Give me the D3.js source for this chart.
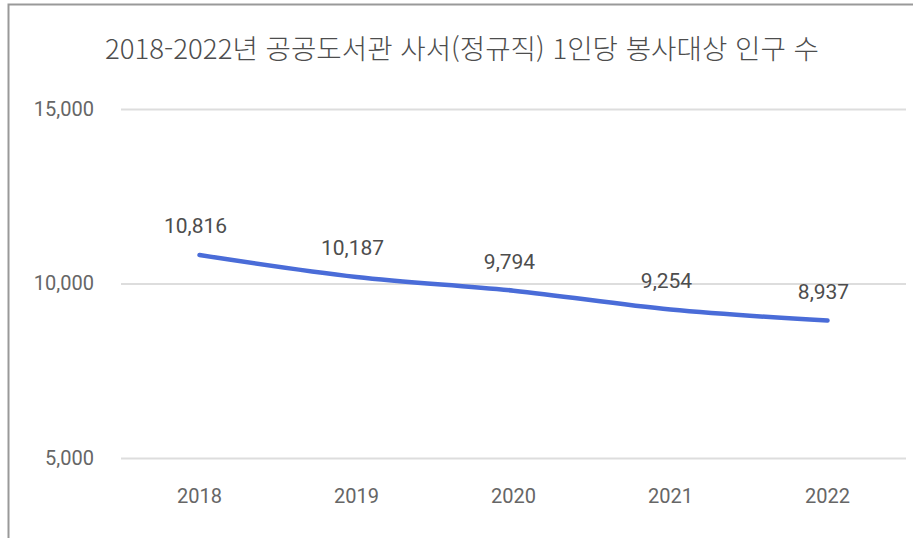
<!DOCTYPE html>
<html lang="ko">
<head>
<meta charset="utf-8">
<script src="https://cdn.jsdelivr.net/npm/d3@7"></script>
<style>
  html, body { margin: 0; padding: 0; background: #fff; }
  svg { display: block; }
</style>
</head>
<body>
<div id="chart"></div>
<script>
const title = '2018-2022년 공공도서관 사서(정규직) 1인당 봉사대상 인구 수'
const years = ['2018', '2019', '2020', '2021', '2022']
const population = [10816, 10187, 9794, 9254, 8937]
const yTicks = [5000, 10000, 15000]

const width = 913
const height = 538
const margin = { top: 109, right: 7, bottom: 80, left: 121 }

const svg = d3.select('#chart')
  .append('svg')
  .attr('width', width)
  .attr('height', height)

// frame (top + left edge of the screenshot)
svg.append('path')
  .attr('d', `M8.5,${height} V4.5 H${width}`)
  .attr('fill', 'none')
  .attr('stroke', '#999')
  .attr('stroke-width', 2)

const x = d3.scaleBand()
  .domain(years)
  .range([margin.left, width - margin.right])

const y = d3.scaleLinear()
  .domain([5000, 15000])
  .range([height - margin.bottom, margin.top])

svg.append('text')
  .attr('x', 462)
  .attr('y', 59)
  .attr('text-anchor', 'middle')
  .attr('font-family', '"Noto Sans CJK KR", sans-serif')
  .attr('font-size', 27)
  .attr('font-weight', 300)
  .attr('textLength', 714)
  .attr('lengthAdjust', 'spacingAndGlyphs')
  .attr('fill', '#4d4d4d')
  .text(title)

const yAxis = svg.append('g')
  .attr('transform', `translate(${margin.left},0)`)
  .call(d3.axisLeft(y).tickValues(yTicks).tickFormat(d3.format(',')).tickSize(-(width - margin.left - margin.right)).tickPadding(27))

yAxis.select('.domain').remove()
yAxis.selectAll('.tick line').attr('stroke', '#ddd').attr('stroke-width', 2)
yAxis.selectAll('.tick text')
  .attr('font-family', 'Roboto, sans-serif')
  .attr('font-size', 20)
  .attr('fill', '#666')

const xAxis = svg.append('g')
  .attr('transform', `translate(0,${height - margin.bottom})`)
  .call(d3.axisBottom(x).tickSize(0).tickPadding(31))

xAxis.select('.domain').remove()
xAxis.selectAll('.tick text')
  .attr('font-family', 'Roboto, sans-serif')
  .attr('font-size', 20)
  .attr('fill', '#666')

const cx = (d, i) => x(years[i]) + x.bandwidth() / 2

const line = d3.line()
  .x(cx)
  .y((d) => y(d))
  .curve(d3.curveMonotoneX)

svg.append('path')
  .datum(population)
  .attr('d', line)
  .attr('fill', 'none')
  .attr('stroke', '#4a6cd8')
  .attr('stroke-width', 4.5)
  .attr('stroke-linecap', 'round')

svg.append('g')
  .selectAll('text')
  .data(population)
  .join('text')
  .attr('x', (d, i) => cx(d, i) - 4)
  .attr('y', (d) => y(d) - 22)
  .attr('text-anchor', 'middle')
  .attr('font-family', 'Roboto, sans-serif')
  .attr('font-size', 21)
  .attr('fill', '#4d4d4d')
  .text((d) => d3.format(',')(d))
</script>
</body>
</html>
